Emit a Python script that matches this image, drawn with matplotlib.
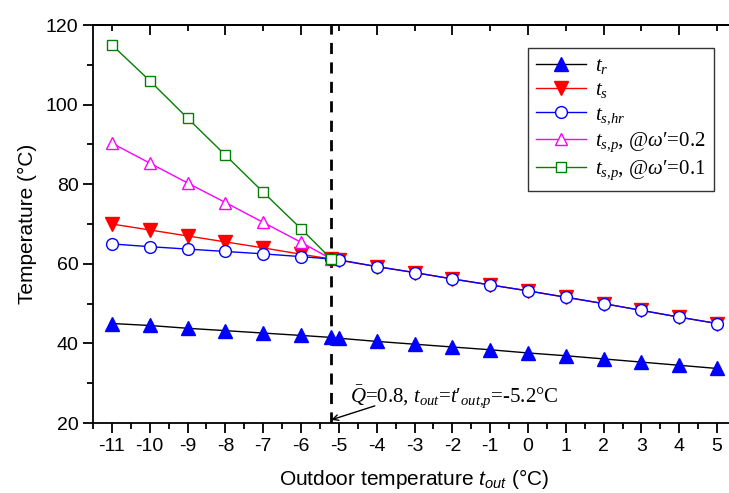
import matplotlib
matplotlib.use("Agg")
import matplotlib.pyplot as plt
from matplotlib.ticker import MultipleLocator

plt.rcParams['font.family'] = ['Liberation Sans', 'DejaVu Sans']
plt.rcParams['axes.unicode_minus'] = False
plt.rcParams['mathtext.fontset'] = 'custom'
plt.rcParams['mathtext.rm'] = 'Liberation Serif'
plt.rcParams['mathtext.it'] = 'Liberation Serif:italic'
plt.rcParams['mathtext.sf'] = 'Liberation Sans:italic'
plt.rcParams['mathtext.fallback'] = 'stix'

# data
x_all = [-11, -10, -9, -8, -7, -6, -5.2, -5, -4, -3, -2, -1, 0, 1, 2, 3, 4, 5]
t_r = [45, 44.5, 43.8, 43.2, 42.6, 42.0, 41.5, 41.3, 40.5, 39.8, 39.1, 38.4, 37.6, 36.9, 36.1, 35.3, 34.5, 33.7]
t_s = [70, 68.5, 67, 65.5, 64, 62.4, 61.2, 60.9, 59.3, 57.8, 56.2, 54.7, 53.2, 51.6, 50.0, 48.3, 46.6, 45.0]
t_shr = [65, 64.3, 63.7, 63.1, 62.5, 61.8, 61.2, 61.0, 59.3, 57.8, 56.2, 54.7, 53.2, 51.6, 50.0, 48.3, 46.6, 45.0]
x_p = [-11, -10, -9, -8, -7, -6, -5.2]
t_sp_02 = [90.3, 85.3, 80.3, 75.4, 70.4, 65.4, 61.2]
t_sp_01 = [115, 106, 96.6, 87.3, 78, 68.8, 61.2]
x_design = -5.2

fig = plt.figure(figsize=(7.29, 4.93), dpi=100)
ax = fig.add_axes([93/729, (493-423)/493, 643/729, 398/493])

ax.plot(x_all, t_r, color='black', lw=1, marker='^', ms=10, mfc='blue', mec='blue',
        label='$t_r$', zorder=3)
ax.plot(x_all, t_s, color='red', lw=1, marker='v', ms=10, mfc='red', mec='red',
        label='$t_s$', zorder=3)
ax.plot(x_all, t_shr, color='blue', lw=1, marker='o', ms=8.5, mfc='white', mec='blue',
        label='$t_{s{,}hr}$', zorder=4)
ax.plot(x_p, t_sp_02, color='magenta', lw=1, marker='^', ms=9, mfc='white', mec='magenta',
        label="$t_{s{,}p}$, @$\\omega$′=0.2", zorder=3)
ax.plot(x_p, t_sp_01, color='green', lw=1, marker='s', ms=7.5, mfc='white', mec='green',
        label="$t_{s{,}p}$, @$\\omega$′=0.1", zorder=5)

ax.axvline(x_design, color='black', lw=2, ls=(0, (4, 3)), zorder=2)

# annotation
ax.text(-4.7, 23.2, "$\\bar{Q}$=0.8, $t_{out}$=$t$′$_{out{,}p}$=-5.2°C", fontsize=15,
        family='Liberation Serif', va='bottom')
ax.annotate("", xy=(x_design, 20.8), xytext=(-4.05, 24.3),
            arrowprops=dict(arrowstyle='->', color='black', lw=1, shrinkA=0, shrinkB=0))

ax.set_xlim(-11.5, 5.5)
ax.set_ylim(20, 120)
ax.xaxis.set_major_locator(MultipleLocator(1))
ax.xaxis.set_minor_locator(MultipleLocator(0.5))
ax.yaxis.set_major_locator(MultipleLocator(20))
ax.yaxis.set_minor_locator(MultipleLocator(10))
ax.tick_params(which='major', direction='out', length=7, width=1.3, labelsize=14)
ax.tick_params(which='minor', direction='out', length=4, width=1.3)
ax.spines['right'].set_visible(False)
for s in ['left', 'bottom', 'top']:
    ax.spines[s].set_linewidth(1.3)

top = ax.secondary_xaxis('top')
top.set_xticks(list(range(-10, 6, 2)))
top.set_xticks(list(range(-11, 6, 2)), minor=True)
top.tick_params(which='major', direction='in', length=7, width=1.3, labeltop=False)
top.tick_params(which='minor', direction='in', length=4, width=1.3)
top.spines['top'].set_linewidth(1.3)

ax.set_xlabel('Outdoor temperature $\\mathsf{t_{out}}$ (°C)', fontsize=15, labelpad=9)
ax.set_ylabel('Temperature (°C)', fontsize=15, labelpad=6)

leg = ax.legend(loc='upper left', frameon=True, fancybox=False,
                edgecolor='black', handlelength=2.4, handletextpad=0.4,
                borderpad=0.4, labelspacing=0.22, borderaxespad=0,
                prop={'family': 'Liberation Serif', 'size': 15})
leg.set_bbox_to_anchor((528/729, 1 - 48/493), transform=fig.transFigure)
leg.get_frame().set_linewidth(1)

fig.savefig('out.png', dpi=100)
